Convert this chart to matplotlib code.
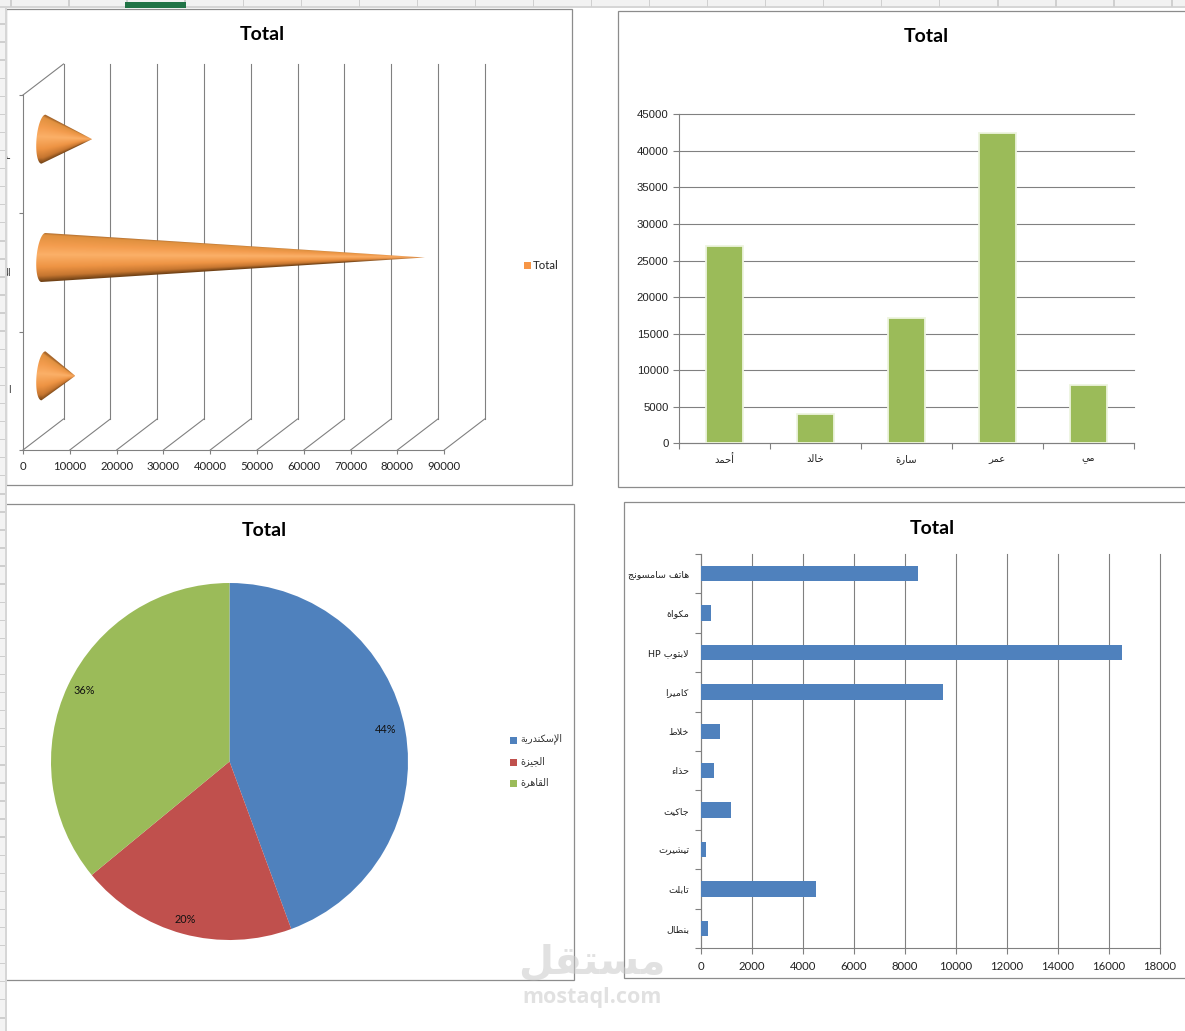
import matplotlib
matplotlib.use("Agg")
import matplotlib.pyplot as plt
import numpy as np
from matplotlib.colors import LinearSegmentedColormap, to_rgba
from matplotlib.patches import Polygon, Rectangle
from matplotlib.transforms import Affine2D

W, H = 1185, 1031

# Sales totals
cone_values = [6800, 81500, 10400]
cone_ticks = list(range(0, 100000, 10000))
cone_fragments = ["ا", "ال", "ـه"]

people = ["أحمد", "خالد", "سارة", "عمر", "مي"]
people_totals = [27000, 4000, 17200, 42500, 8000]
people_ticks = list(range(0, 50000, 5000))

cities = ["الإسكندرية", "الجيزة", "القاهرة"]
city_totals = [43800, 19400, 35500]
city_colors = ["#4F81BD", "#C0504D", "#9BBB59"]

products = ["هاتف سامسونج", "مكواة", "لابتوب HP", "كاميرا", "خلاط",
            "حذاء", "جاكيت", "تيشيرت", "تابلت", "بنطال"]
product_totals = [8500, 400, 16500, 9500, 750, 500, 1200, 220, 4500, 300]
product_ticks = list(range(0, 20000, 2000))

GRID = "#808080"
FRAME = "#8c8c8c"
LATIN = "Lato"
ARIAL = "Liberation Sans"
ARABIC = "DejaVu Sans"

# Presentation forms: dual-joining letters have four shapes, right-joining two
DUAL = {"ب": 0xFE8F, "ت": 0xFE95, "ج": 0xFE9D, "ح": 0xFEA1, "خ": 0xFEA5,
        "س": 0xFEB1, "ش": 0xFEB5, "ط": 0xFEC1, "ع": 0xFEC9, "ف": 0xFED1,
        "ق": 0xFED5, "ك": 0xFED9, "ل": 0xFEDD, "م": 0xFEE1, "ن": 0xFEE5,
        "ه": 0xFEE9, "ي": 0xFEF1}
RIGHT = {"أ": 0xFE83, "إ": 0xFE87, "ا": 0xFE8D, "ة": 0xFE93, "د": 0xFEA9,
         "ذ": 0xFEAB, "ر": 0xFEAD, "ز": 0xFEAF, "و": 0xFEED}
LAM_ALEF = {"ا": 0xFEFB, "إ": 0xFEF9, "أ": 0xFEF7}


def shape_word(word):
    out = []
    i = 0
    joined = False
    while i < len(word):
        ch = word[i]
        nxt = word[i + 1] if i + 1 < len(word) else ""
        if ch == "ل" and nxt in LAM_ALEF:
            out.append(chr(LAM_ALEF[nxt] + (1 if joined else 0)))
            joined = False
            i += 2
            continue
        if ch in DUAL:
            joins_next = nxt in DUAL or nxt in RIGHT
            offset = {(False, False): 0, (True, False): 1,
                      (False, True): 2, (True, True): 3}[(joined, joins_next)]
            out.append(chr(DUAL[ch] + offset))
            joined = joins_next
        elif ch in RIGHT:
            out.append(chr(RIGHT[ch] + (1 if joined else 0)))
            joined = False
        else:
            out.append(ch)
            joined = False
        i += 1
    return "".join(reversed(out))


def ar(text):
    words = []
    for word in reversed(text.split(" ")):
        words.append(word if word.isascii() else shape_word(word))
    return " ".join(words)


def box(fig, left, top, right, bottom, **kw):
    return fig.add_axes([left / W, 1 - bottom / H, (right - left) / W, (bottom - top) / H], **kw)


def style_axes(ax):
    ax.patch.set_visible(False)
    for side in ("top", "right"):
        ax.spines[side].set_visible(False)
    for side in ("left", "bottom"):
        ax.spines[side].set_color(GRID)
        ax.spines[side].set_linewidth(0.8)


fig = plt.figure(figsize=(W / 100, H / 100), dpi=100, facecolor="white")

# Chart frames and titles
page = box(fig, 0, 0, W, H, zorder=0)
page.set_xlim(0, W)
page.set_ylim(H, 0)
page.axis("off")
frames = [(6, 9.2, 572.2, 485.2), (618, 11.2, 1190, 487.2), (-2, 504.2, 574.2, 980.2), (624, 502.2, 1190, 978.2)]
for l, t, r, b in frames:
    page.add_patch(Rectangle((l, t), r - l, b - t, fc="white", ec=FRAME, lw=0.9))
for x, y in [(262, 34), (926.5, 36), (264, 530), (932.5, 528)]:
    page.text(x, y, "Total", ha="center", va="center", fontsize=14, fontweight="bold",
              family=LATIN, color="black")

# Cone chart: a front plane in value units, with the back wall and the cones shifted in depth
ax1 = box(fig, 23, 95, 444.2, 450, zorder=1)
ax1.set_xlim(0, 90000)
ax1.set_ylim(0, 3)
style_axes(ax1)
ax1.set_xticks(cone_ticks)
ax1.set_xticklabels([str(v) for v in cone_ticks], family=LATIN, fontsize=8.2, color="#222222")
ax1.set_yticks([0, 1, 2, 3])
ax1.set_yticklabels([])
ax1.tick_params(axis="both", length=3, width=0.8, color=GRID, pad=5)

DEPTH_X, DEPTH_Y = 40.5, 31
back = ax1.transData + Affine2D().translate(DEPTH_X, DEPTH_Y)
middle = ax1.transData + Affine2D().translate(20.5, 15)
for v in cone_ticks:
    ax1.plot([v, v], [0, 3], color=GRID, lw=0.8, transform=back, clip_on=False)
    ax1.plot([v, v + DEPTH_X / 421.2 * 90000], [0, DEPTH_Y / 118.33], color=GRID, lw=0.8, clip_on=False)
ax1.plot([0, DEPTH_X / 421.2 * 90000], [3, 3 + DEPTH_Y / 118.33], color=GRID, lw=0.8, clip_on=False)

cone_shade = LinearSegmentedColormap.from_list(
    "cone", [(0.0, "#a8672c"), (0.05, "#e0913f"), (0.25, "#f39c4e"), (0.45, "#fbb068"),
             (0.7, "#ee9444"), (0.88, "#c67630"), (1.0, "#6e4015")])
tip_tone = np.array(to_rgba("#f2a35c"))
half_height = 24.5 / 118.33
base_a = 7 / 421 * 90000
base_skew = 2 / 421 * 90000
for row, value in enumerate(cone_values):
    theta = np.linspace(-np.pi / 2, np.pi / 2, 90)
    ex = -base_a * np.cos(theta) - base_skew * np.sin(theta)
    ey = row + 0.5 - half_height * np.sin(theta)
    outline = np.column_stack([np.append(ex, value), np.append(ey, row + 0.5)])

    # Shade by angular position around the tip, easing to a flat tone where the cone gets thin
    xs = np.linspace(-base_a - base_skew, value, 500)
    ys = np.linspace(row + 0.5 - half_height * 1.05, row + 0.5 + half_height * 1.05, 160)
    gx, gy = np.meshgrid(xs, ys)
    along = np.clip(gx / value, 0, 0.999)
    t = np.clip((row + 0.5 - gy) / (half_height * (1 - along)), -1, 1)
    rgba = cone_shade((t + 1) / 2)
    blend = np.clip((along - 0.8) / 0.2, 0, 1)[..., None] * 0.8
    rgba = rgba * (1 - blend) + tip_tone * blend

    im = ax1.imshow(rgba, extent=(xs[0], xs[-1], ys[0], ys[-1]), origin="lower", aspect="auto",
                    transform=middle, interpolation="bilinear", zorder=3, clip_on=True)
    im.set_clip_path(Polygon(outline, closed=True, transform=middle))
ax1.set_xlim(0, 90000)
ax1.set_ylim(0, 3)

for y, frag in zip([390, 272, 156], cone_fragments):
    fig.text(10.5 / W, 1 - y / H, ar(frag), ha="right", va="center", fontsize=7, family=ARABIC, color="#333333")

page.add_patch(Rectangle((524, 262), 7, 7, fc="#F79646", ec="none"))
page.text(533, 265.5, "Total", ha="left", va="center", fontsize=8.2, family=LATIN, color="#222222")

# Column chart by salesperson
ax2 = box(fig, 679, 114.3, 1134, 443.3, zorder=1)
ax2.set_xlim(-0.5, 4.5)
ax2.set_ylim(0, 45000)
style_axes(ax2)
ax2.yaxis.grid(True, color=GRID, lw=0.8, clip_on=False)
ax2.set_axisbelow(True)
ax2.bar(range(5), people_totals, width=0.405, color="#9BBB59", edgecolor="#EDF4DF", linewidth=1.3, zorder=3)
ax2.set_yticks(people_ticks)
ax2.set_yticklabels([str(v) for v in people_ticks], family=ARIAL, fontsize=8.2, color="#222222")
ax2.set_xticks(np.arange(6) - 0.5)
ax2.set_xticklabels([])
ax2.set_xticks(range(5), [ar(p) for p in people], minor=True, family=ARABIC, fontsize=7.2, color="#222222")
ax2.tick_params(axis="both", which="major", length=4, width=0.8, color=GRID)
ax2.tick_params(axis="y", which="major", pad=3.5)
ax2.tick_params(axis="x", which="minor", length=0, pad=7.5)

# Pie chart by city
ax3 = box(fig, 51, 583, 408, 940, zorder=1)
_, _, pct_texts = ax3.pie(city_totals, colors=city_colors, startangle=90, counterclock=False, radius=1,
                          autopct="%1.0f%%", pctdistance=0.9,
                          textprops={"family": LATIN, "fontsize": 7.8, "color": "#111111"},
                          wedgeprops={"linewidth": 0}, frame=True)
ax3.axis("off")
ax3.set_xlim(-1, 1)
ax3.set_ylim(-1, 1)
for label, (nudge_x, nudge_y) in zip(pct_texts, [(-2, 4), (-2, -3), (0, 2)]):
    px, py = label.get_position()
    label.set_position((px + nudge_x / 178.5, py + nudge_y / 178.5))

for y, city, color in zip([740, 762, 783], cities, city_colors):
    page.add_patch(Rectangle((510, y - 3.5), 7, 7, fc=color, ec="none"))
    page.text(520, y - 1, ar(city), ha="left", va="center", fontsize=6.9, family=ARABIC, color="#333333")

# Horizontal bars by product
ax4 = box(fig, 700.8, 553.8, 1160, 948.2, zorder=1)
ax4.set_xlim(0, 18000)
ax4.set_ylim(len(products) - 0.5, -0.5)
style_axes(ax4)
ax4.xaxis.grid(True, color=GRID, lw=0.8, clip_on=False)
ax4.set_axisbelow(True)
ax4.barh(range(len(products)), product_totals, height=0.39, color="#4F81BD", zorder=3)
ax4.set_xticks(product_ticks)
ax4.set_xticklabels([str(v) for v in product_ticks], family=LATIN, fontsize=8.2, color="#222222")
ax4.set_yticks(np.arange(len(products) + 1) - 0.5)
ax4.set_yticklabels([])
ax4.set_yticks(range(len(products)), [ar(p) for p in products], minor=True,
               family=ARABIC, fontsize=6.8, color="#222222")
ax4.tick_params(axis="both", which="major", length=4, width=0.8, color=GRID)
ax4.tick_params(axis="x", which="major", pad=5.5)
ax4.tick_params(axis="y", which="minor", length=0, pad=8.5)

# Spreadsheet headers along the top and left edges
chrome = box(fig, 0, 0, W, H, zorder=5)
chrome.set_xlim(0, W)
chrome.set_ylim(H, 0)
chrome.axis("off")
chrome.add_patch(Rectangle((0, 0), W, 6.5, fc="#F2F2F2", ec="none"))
chrome.add_patch(Rectangle((0, 6), W, 2, fc="#D6D6D6", ec="none"))
for x in np.arange(11, W, 58.05):
    chrome.add_patch(Rectangle((x - 0.7, 0), 1.4, 7, fc="#D0D0D0", ec="none"))
chrome.add_patch(Rectangle((125, 2), 61, 6, fc="#217346", ec="none"))
chrome.add_patch(Rectangle((0, 8), 5, H, fc="#F3F3F3", ec="none"))
chrome.add_patch(Rectangle((5, 8), 2, H, fc="#D6D6D6", ec="none"))
for y in np.arange(24, H, 18.07):
    chrome.add_patch(Rectangle((0, y - 0.7), 5, 1.4, fc="#CFCFCF", ec="none"))

# Site mark at the bottom centre
chrome.text(592, 963, ar("مستقل"), ha="center", va="center", fontsize=29, fontweight="bold",
            family=ARABIC, color="#C9C9C9", alpha=0.55)
chrome.text(592, 998, "mostaql.com", ha="center", va="center", fontsize=15.5, fontweight="bold",
            family="Open Sans", color="#C9C9C9", alpha=0.55)

fig.savefig("out.png", dpi=100, facecolor="white")
